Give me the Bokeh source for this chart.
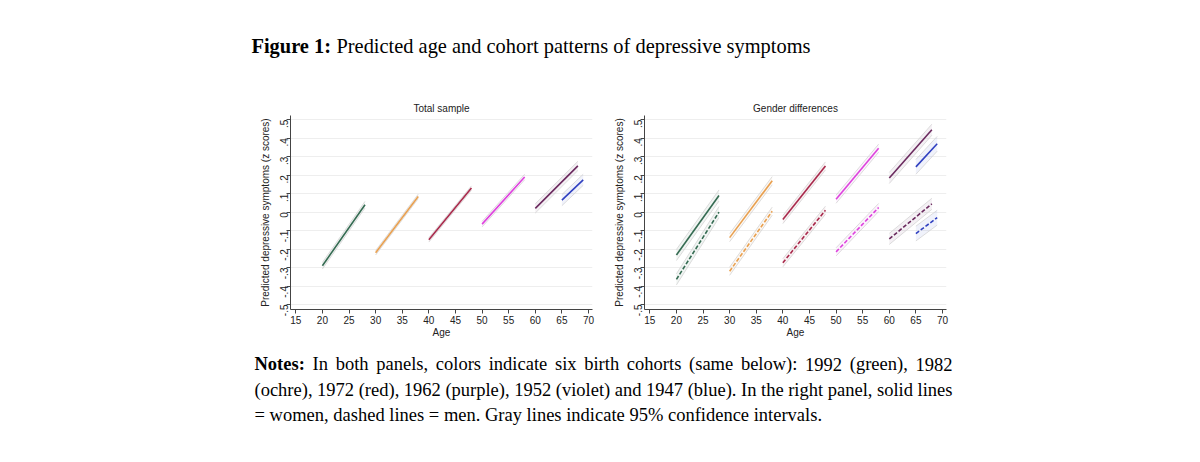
import math
from bokeh.plotting import figure
from bokeh.models import Range1d, FixedTicker, ColumnDataSource
from bokeh.layouts import column, row
from bokeh.embed import file_html
from bokeh.resources import INLINE
from bokeh.core.properties import value

# ---------------- data ----------------
cohorts = ["1992", "1982", "1972", "1962", "1952", "1947"]
cohort_colors = ["#356b52", "#e8a050", "#a82a4c", "#dd44dd", "#6a2a5e", "#3040c0"]
age_start = [20, 30, 40, 50, 60, 65]
age_end = [28, 38, 48, 58, 68, 69]

# Total sample: predicted z-scores at first / last age, and CI half-width
total_start = [-0.29, -0.22, -0.15, -0.065, 0.02, 0.065]
total_end = [0.04, 0.085, 0.13, 0.19, 0.25, 0.175]
total_ci = [0.018, 0.012, 0.012, 0.015, 0.025, 0.03]

# Gender differences: women (solid), men (dashed)
women_start = [-0.232, -0.138, -0.04, 0.07, 0.185, 0.245]
women_end = [0.09, 0.17, 0.25, 0.346, 0.446, 0.37]
women_ci = [0.03, 0.022, 0.022, 0.022, 0.03, 0.04]
men_start = [-0.364, -0.32, -0.274, -0.215, -0.145, -0.116]
men_end = [0.0, 0.005, 0.01, 0.025, 0.045, -0.03]
men_ci = [0.03, 0.022, 0.022, 0.022, 0.03, 0.04]

x_ticks = [15, 20, 25, 30, 35, 40, 45, 50, 55, 60, 65, 70]
y_ticks = [-0.5, -0.4, -0.3, -0.2, -0.1, 0.0, 0.1, 0.2, 0.3, 0.4, 0.5]
y_tick_labels = ["-.5", "-.4", "-.3", "-.2", "-.1", "0", ".1", ".2", ".3", ".4", ".5"]

heading_bold = "Figure 1:"
heading_rest = "Predicted age and cohort patterns of depressive symptoms"
notes_lines = [
    "Notes: In both panels, colors indicate six birth cohorts (same below): 1992 (green), 1982",
    "(ochre), 1972 (red), 1962 (purple), 1952 (violet) and 1947 (blue). In the right panel, solid lines",
    "= women, dashed lines = men. Gray lines indicate 95% confidence intervals.",
]

SANS = "Liberation Sans"
SERIF = "Liberation Serif"

# ---------------- text metrics (Times) ----------------
TR = {" ": 250, "%": 833, "(": 333, ")": 333, ",": 250, ".": 250, ":": 278, "=": 564,
      "G": 722, "I": 333, "N": 722, "P": 556, "F": 556,
      "a": 444, "b": 500, "c": 444, "d": 500, "e": 444, "f": 333, "g": 500, "h": 500,
      "i": 278, "j": 278, "k": 500, "l": 278, "m": 778, "n": 500, "o": 500, "p": 500,
      "q": 500, "r": 333, "s": 389, "t": 278, "u": 500, "v": 500, "w": 722, "x": 500,
      "y": 500, "z": 444}
TB = {" ": 250, ":": 333, "N": 722, "F": 611, "o": 500, "t": 333, "e": 444, "s": 389,
      "i": 278, "g": 500, "u": 556, "r": 444}


def tw(s, size, bold=False):
    tab = TB if bold else TR
    return sum(tab.get(ch, 500) for ch in s) / 1000.0 * size


# ---------------- panels ----------------
def make_panel(title, left_border):
    p = figure(frame_width=302, frame_height=194,
               x_range=Range1d(14.0, 70.75), y_range=Range1d(-0.527, 0.523),
               toolbar_location=None, output_backend="svg",
               min_border_left=left_border, min_border_right=10,
               min_border_top=17, min_border_bottom=31, title=title)
    p.outline_line_color = None
    p.background_fill_color = "white"
    p.border_fill_color = "white"
    p.xgrid.visible = False
    p.ygrid.grid_line_color = "#eeeeee"
    p.ygrid.grid_line_width = 1
    p.xaxis.ticker = FixedTicker(ticks=x_ticks)
    p.yaxis.ticker = FixedTicker(ticks=y_ticks)
    p.yaxis.major_label_overrides = {t: l for t, l in zip(y_ticks, y_tick_labels)}
    p.yaxis.major_label_orientation = math.pi / 2
    p.axis.minor_tick_line_color = None
    p.axis.major_tick_out = 4
    p.axis.major_tick_in = 0
    p.axis.axis_line_color = "#444444"
    p.axis.major_tick_line_color = "#444444"
    p.axis.major_label_text_font = SANS
    p.axis.major_label_text_font_size = "10px"
    p.axis.major_label_text_color = "#222222"
    p.axis.major_label_standoff = 2
    p.axis.axis_label_text_font = SANS
    p.axis.axis_label_text_font_style = "normal"
    p.axis.axis_label_text_color = "#222222"
    p.xaxis.axis_label_standoff = 0
    p.yaxis.axis_label_standoff = 3
    p.xaxis.axis_label = "Age"
    p.xaxis.axis_label_text_font_size = "10px"
    p.yaxis.axis_label = "Predicted depressive symptoms (z scores)"
    p.yaxis.axis_label_text_font_size = "10px"
    p.title.align = "center"
    p.title.text_font = SANS
    p.title.text_font_style = "normal"
    p.title.text_font_size = "10px"
    p.title.text_color = "#222222"
    p.title.standoff = 3
    return p


def draw_series(p, starts, ends, cis, dash):
    for i in range(len(cohorts)):
        xs = [age_start[i], age_end[i]]
        ys = [starts[i], ends[i]]
        lo = [starts[i] - cis[i], ends[i] - cis[i]]
        hi = [starts[i] + cis[i], ends[i] + cis[i]]
        src = ColumnDataSource(dict(x=xs, y=ys, lo=lo, hi=hi))
        p.varea(x="x", y1="lo", y2="hi", source=src,
                fill_color=cohort_colors[i], fill_alpha=0.07)
        p.line(x="x", y="lo", source=src, line_color="#d4d4d4", line_width=0.8)
        p.line(x="x", y="hi", source=src, line_color="#d4d4d4", line_width=0.8)
        p.line(x="x", y="y", source=src, line_color=cohort_colors[i],
               line_width=1.6, line_dash=dash)


p1 = make_panel("Total sample", 290)
draw_series(p1, total_start, total_end, total_ci, "solid")

p2 = make_panel("Gender differences", 42)
draw_series(p2, women_start, women_end, women_ci, "solid")
draw_series(p2, men_start, men_end, men_ci, "4 2")


# ---------------- text figures ----------------
def text_fig(h):
    f = figure(width=1184, height=h, x_range=Range1d(0, 1184), y_range=Range1d(h, 0),
               toolbar_location=None, output_backend="svg", min_border=0,
               x_axis_type=None, y_axis_type=None)
    f.xgrid.visible = False
    f.ygrid.visible = False
    f.outline_line_color = None
    return f


head = text_fig(98)
HS = 20.4
hx = 251
hy = 45
head.text(x=[hx], y=[hy], text=[heading_bold], text_font=value(SERIF),
          text_font_size=value("%.1fpx" % HS), text_font_style="bold",
          text_baseline="alphabetic", text_align="left", text_color="black")
head.text(x=[hx + tw(heading_bold + " ", HS, True)], y=[hy], text=[heading_rest],
          text_font=value(SERIF), text_font_size=value("%.1fpx" % HS),
          text_baseline="alphabetic", text_align="left", text_color="black")

notes = text_fig(100)
NS = 18.5
left, right = 254, 952
baselines = [23.5, 49, 74.5]
for li, line in enumerate(notes_lines):
    words = line.split(" ")
    bolds = [li == 0 and wi == 0 for wi in range(len(words))]
    widths = [tw(w, NS, b) for w, b in zip(words, bolds)]
    if li < 2:
        gap = (right - left - sum(widths)) / (len(words) - 1)
    else:
        gap = tw(" ", NS)
    xs = []
    cx = left
    for w in widths:
        xs.append(cx)
        cx += w + gap
    for w, b, x in zip(words, bolds, xs):
        notes.text(x=[x], y=[baselines[li]], text=[w], text_font=value(SERIF),
                   text_font_size=value("%.1fpx" % NS),
                   text_font_style="bold" if b else "normal",
                   text_baseline="alphabetic", text_align="left", text_color="black")

layout = column(head, row(p1, p2), notes)
open("out.html", "w").write(file_html(layout, INLINE))
